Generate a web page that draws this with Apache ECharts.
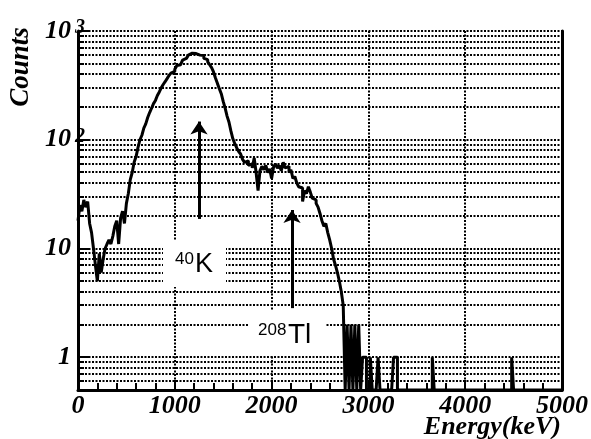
<!DOCTYPE html>
<html>
<head>
<meta charset="utf-8">
<script src="https://cdn.jsdelivr.net/npm/echarts@6/dist/echarts.min.js"></script>
<style>
html,body{margin:0;padding:0;background:#fff;}
#chart{width:591px;height:439px;}
</style>
</head>
<body>
<div id="chart"></div>
<script>
// ---------- DATA ----------
// Histogram: 20 keV bins starting at 0 keV (counts per bin)
var binWidth = 20;
var countsLow = [
  18, 25, 22, 28, 24, 27, 17, 14, 10, 7,
  5, 9, 6, 8, 10, 11, 12, 11, 13, 16,
  18, 11, 19, 22, 17, 26, 32, 43, 50, 62,
  70, 85, 100, 110, 128, 140, 160, 178, 195, 215,
  230, 255, 275, 300, 322, 342, 365, 390, 410, 425,
  445, 480, 490, 510, 540, 560, 575, 600, 625, 640,
  620, 635, 600, 590, 595, 560, 545, 520, 490, 460,
  420, 370, 330, 295, 265, 225, 195, 165, 145, 120,
  102, 92, 84, 78, 74, 66, 62, 64, 58, 60,
  55, 68, 50, 34, 52, 57, 53, 58, 50, 54,
  44, 56, 60, 55, 58, 52, 62, 55, 57, 50,
  53, 44, 46, 40, 37, 36, 27, 34, 32, 37,
  33, 29, 28, 26, 24, 21, 18, 16, 17, 14,
  12, 10, 8, 7, 6, 5, 4, 3, 0, 2,
  0, 2, 0, 2, 0, 2, 0, 1, 1, 0
];
// isolated single counts above 3000 keV (bin start energy, counts)
var tailEnergies = [3020, 3100, 3260, 3280, 3660, 4480];
var tailCounts = [1, 1, 1, 1, 1, 1];
var xTickLabels = ['0', '1000', '2000', '3000', '4000', '5000'];
var yDecadeLabels = { 1: '1', 10: '10', 100: '10^2', 1000: '10^3' };
var peakLabels = ['40K', '208Tl'];

// ---------- BUILD ----------
var X_MAX = 5000, Y_MIN = 0.5, Y_MAX = 1000;
var nBins = X_MAX / binWidth;
var counts = [];
for (var i = 0; i < nBins; i++) counts.push(i < countsLow.length ? countsLow[i] : 0);
tailEnergies.forEach(function (e, k) { counts[Math.round(e / binWidth)] = tailCounts[k]; });
var histData = counts.map(function (c, i) { return [i * binWidth, c > 0 ? c : Y_MIN]; });
histData.push([X_MAX, counts[nBins - 1] > 0 ? counts[nBins - 1] : Y_MIN]);

// horizontal dotted grid at 2..9 x decade and decades
var yGrid = [];
[0.1, 1, 10, 100].forEach(function (d) {
  for (var m = 1; m <= 9; m++) {
    var v = +(m * d).toPrecision(3);
    if (v > Y_MIN && v <= Y_MAX) yGrid.push([0, v, m === 1 ? 1 : 0]);
  }
});
yGrid.push([0, 1000, 1]);

var serif = '"Liberation Serif","Times New Roman","DejaVu Serif",serif';
var sans = '"Liberation Sans",Arial,"DejaVu Sans",sans-serif';

var chart = echarts.init(document.getElementById('chart'), null, { renderer: 'canvas' });
var option = {
  animation: false,
  backgroundColor: '#fff',
  grid: { left: 78, right: 28, top: 31, bottom: 49 },
  xAxis: {
    type: 'value', min: 0, max: X_MAX, interval: 1000,
    axisLine: { show: true, lineStyle: { color: '#000', width: 3 } },
    axisTick: { show: true, inside: true, length: 10, lineStyle: { color: '#000', width: 2 } },
    minorTick: { show: true, splitNumber: 5, length: 7, lineStyle: { color: '#000', width: 2 } },
    splitLine: { show: true, lineStyle: { color: '#000', width: 2, type: [2, 1.5] } },
    axisLabel: {
      margin: 3, color: '#000', fontFamily: serif, fontSize: 26, fontWeight: 'bold', fontStyle: 'italic',
      formatter: function (v) { return xTickLabels[Math.round(v / 1000)] || ''; }
    }
  },
  yAxis: [{
    type: 'log', logBase: 10, min: Y_MIN, max: Y_MAX,
    axisLine: { show: true, onZero: false, lineStyle: { color: '#000', width: 3 } },
    axisTick: { show: false },
    splitLine: { show: false },
    axisLabel: {
      margin: -7, color: '#000',
      formatter: function (v) {
        var p = Math.log(v) / Math.LN10;
        var r = Math.round(p);
        if (Math.abs(p - r) > 1e-6) return '';
        var key = Math.pow(10, r);
        var s = yDecadeLabels[key];
        if (!s) return '';
        var parts = s.split('^');
        if (parts.length === 2) return '{b|' + parts[0] + '}{s|' + parts[1] + '}';
        return '{b|' + parts[0] + '}{sp|}';
      },
      rich: {
        b: { fontFamily: serif, fontSize: 26, fontWeight: 'bold', fontStyle: 'italic', color: '#000', lineHeight: 26 },
        s: { fontFamily: serif, fontSize: 20, fontWeight: 'bold', fontStyle: 'italic', color: '#000', lineHeight: 20, verticalAlign: 'top', padding: [0, 0, 10, 4] },
        sp: { width: 14 }
      }
    }
  }, {
    type: 'log', logBase: 10, min: Y_MIN, max: Y_MAX, position: 'right',
    axisLine: { show: true, onZero: false, lineStyle: { color: '#000', width: 3 } },
    axisTick: { show: false }, axisLabel: { show: false }, splitLine: { show: false }
  }],
  graphic: [
    { type: 'rect', z: 50, shape: { x: 163, y: 241, width: 63, height: 46 }, style: { fill: '#fff' } },
    { type: 'rect', z: 50, shape: { x: 248, y: 310, width: 77, height: 45 }, style: { fill: '#fff' } },
    { type: 'text', z: 60, x: 175, y: 251, style: { text: peakLabels[0].slice(0, 2), font: '17px ' + sans, fill: '#000', textVerticalAlign: 'top' } },
    { type: 'text', z: 60, x: 195, y: 251, style: { text: peakLabels[0].slice(2), font: '27px ' + sans, fill: '#000', textVerticalAlign: 'top' } },
    { type: 'text', z: 60, x: 258, y: 322, style: { text: peakLabels[1].slice(0, 3), font: '17px ' + sans, fill: '#000', textVerticalAlign: 'top' } },
    { type: 'text', z: 60, x: 288, y: 321, style: { text: peakLabels[1].slice(3), font: '28px ' + sans, fill: '#000', textVerticalAlign: 'top' } },
    { type: 'text', z: 60, x: 561, y: 427, style: { text: 'Energy(keV)', font: 'italic bold 26px ' + serif, fill: '#000', textAlign: 'right', textVerticalAlign: 'middle' } },
    { type: 'text', z: 60, x: 21, y: 67, rotation: Math.PI / 2, style: { text: 'Counts', font: 'italic bold 27px ' + serif, fill: '#000', textAlign: 'center', textVerticalAlign: 'middle' } }
  ],
  series: [{
    type: 'custom',
    z: 1,
    silent: true,
    coordinateSystem: 'cartesian2d',
    data: yGrid,
    encode: { x: 0, y: 1 },
    renderItem: function (params, api) {
      var p = api.coord([0, api.value(1)]);
      var cs = params.coordSys;
      var y = Math.round(p[1]);
      var major = api.value(2) === 1;
      return {
        type: 'group',
        children: [
          { type: 'line', shape: { x1: cs.x, y1: y, x2: cs.x + cs.width, y2: y }, style: { stroke: '#000', lineWidth: 2, lineDash: [2, 1.5] } },
          { type: 'line', shape: { x1: cs.x, y1: y, x2: cs.x + (major ? 12 : 6), y2: y }, style: { stroke: '#000', lineWidth: 2 } }
        ]
      };
    }
  }, {
    type: 'line',
    z: 100,
    step: 'end',
    data: histData,
    showSymbol: false,
    symbol: 'none',
    clip: true,
    lineStyle: { color: '#000', width: 3 },
    markLine: {
      silent: true,
      symbol: ['none', 'arrow'],
      symbolSize: 13,
      label: { show: false },
      lineStyle: { color: '#000', width: 3, type: 'solid' },
      emphasis: { disabled: true },
      data: [
        [{ coord: [1250, 18.7] }, { coord: [1250, 147] }],
        [{ coord: [2211, 2.83] }, { coord: [2211, 22.6] }]
      ]
    }
  }]
};
chart.setOption(option);
</script>
</body>
</html>
